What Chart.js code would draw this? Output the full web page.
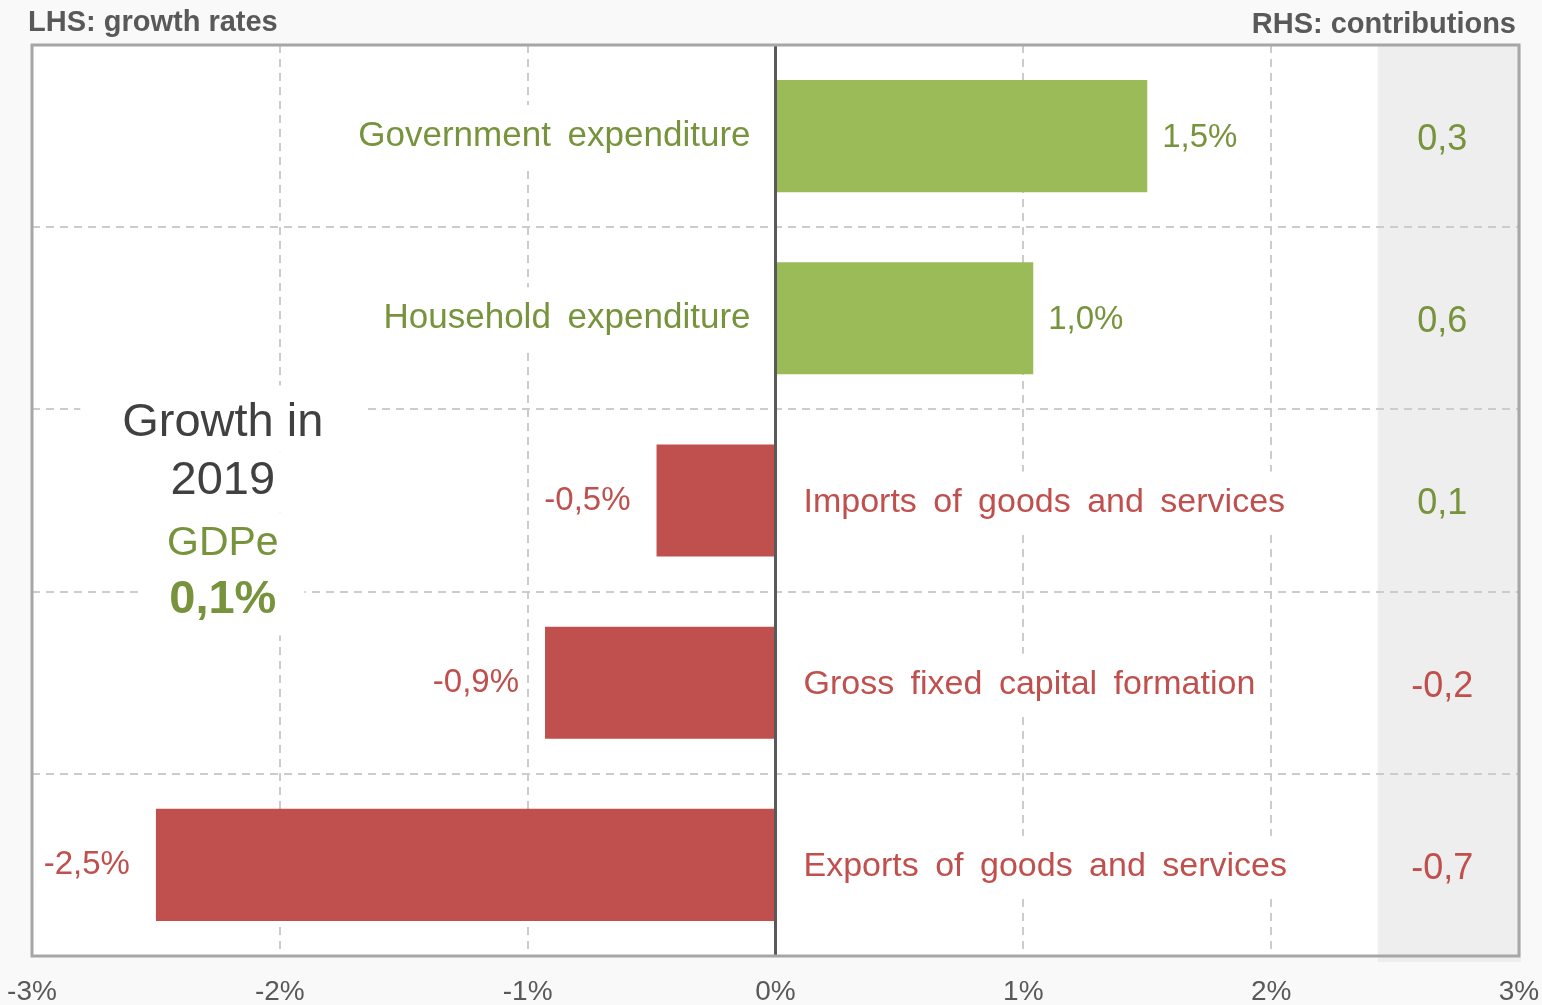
<!DOCTYPE html>
<html>
<head>
<meta charset="utf-8">
<script src="https://cdn.jsdelivr.net/npm/chart.js@4"></script>
<style>
  body { margin: 0; background: #f9f9f9; }
  #wrap { width: 1542px; height: 1005px; }
</style>
</head>
<body>
<div id="wrap"><canvas id="myChart" width="1542" height="1005"></canvas></div>
<script>
const categories = [
    'Government expenditure',
    'Household expenditure',
    'Imports of goods and services',
    'Gross fixed capital formation',
    'Exports of goods and services'
];
const growth = [1.5, 1.04, -0.48, -0.93, -2.5];
const contributions = [0.3, 0.6, 0.1, -0.2, -0.7];
const gdpGrowth = 0.1;
const xMin = -3;
const xMax = 3;

const GREEN = '#9bbb59';
const GREEN_TEXT = '#77933c';
const RED = '#c0504d';
const FONT = "'Liberation Sans', Arial, sans-serif";

function comma(v) {
    return v.toFixed(1).replace('.', ',');
}

function boxText(ctx, text, x, y, align, padX, h) {
    const w = ctx.measureText(text).width;
    let left = x;
    if (align === 'center') left = x - w / 2;
    if (align === 'right') left = x - w;
    const fill = ctx.fillStyle;
    ctx.fillStyle = '#ffffff';
    ctx.fillRect(left - padX, y - h / 2, w + padX * 2, h);
    ctx.fillStyle = fill;
    ctx.fillText(text, x, y);
}

const decor = {
    id: 'decor',
    beforeDraw(chart) {
        const { ctx, chartArea: a, scales: { x } } = chart;
        ctx.save();
        ctx.fillStyle = '#ffffff';
        ctx.fillRect(a.left, a.top, a.right - a.left, a.bottom - a.top);
        // shaded contributions column
        const gx = x.getPixelForValue(2.43);
        ctx.fillStyle = '#eeeeee';
        ctx.fillRect(gx, a.top, a.right + 2 - gx, a.bottom + 6 - a.top);
        ctx.restore();
    },
    afterDatasetsDraw(chart) {
        const { ctx, chartArea: a, scales: { x, y } } = chart;
        const x0 = x.getPixelForValue(0);
        ctx.save();
        ctx.textBaseline = 'middle';

        categories.forEach((cat, i) => {
            const v = growth[i];
            const yc = y.getPixelForValue(i);
            const col = v >= 0 ? GREEN_TEXT : RED;
            ctx.fillStyle = col;
            ctx.font = '35px ' + FONT;
            ctx.wordSpacing = '7px';
            if (v >= 0) {
                ctx.textAlign = 'right';
                boxText(ctx, cat, x0 - 25, yc, 'right', 6, 62);
            } else {
                ctx.font = '34px ' + FONT;
                ctx.textAlign = 'left';
                boxText(ctx, cat, x0 + 28, yc + 2, 'left', 6, 62);
            }
            ctx.wordSpacing = '0px';
            // value label
            ctx.font = '33px ' + FONT;
            const xe = x.getPixelForValue(v);
            if (v >= 0) {
                ctx.textAlign = 'left';
                ctx.fillText(comma(v) + '%', xe + 15, yc + 2);
            } else {
                ctx.textAlign = 'right';
                ctx.fillText(comma(v) + '%', xe - 26, yc);
            }
            // contribution
            const c = contributions[i];
            ctx.font = '36px ' + FONT;
            ctx.textAlign = 'center';
            ctx.fillStyle = c >= 0 ? GREEN_TEXT : RED;
            ctx.fillText(comma(c), x.getPixelForValue(2.69), yc + 4);
        });

        // growth annotation
        const ax = x.getPixelForValue(-2.23);
        const ay = y.getPixelForValue(2);
        const lines = [
            { t: 'Growth in', f: '47px ' + FONT, c: '#404040', dy: -77, pad: 42, top: -115, bot: -48 },
            { t: '2019', f: '47px ' + FONT, c: '#404040', dy: -19, pad: 42, top: -48, bot: 12 },
            { t: 'GDPe', f: '41px ' + FONT, c: GREEN_TEXT, dy: 43, pad: 42, top: 12, bot: 72 },
            { t: comma(gdpGrowth) + '%', f: 'bold 47px ' + FONT, c: GREEN_TEXT, dy: 100, pad: 28, top: 72, bot: 135 }
        ];
        ctx.textAlign = 'center';
        lines.forEach(l => {
            ctx.font = l.f;
            const w = ctx.measureText(l.t).width;
            ctx.fillStyle = '#ffffff';
            ctx.fillRect(ax - w / 2 - l.pad, ay + l.top, w + l.pad * 2, l.bot - l.top);
        });
        lines.forEach(l => {
            ctx.font = l.f;
            ctx.fillStyle = l.c;
            ctx.fillText(l.t, ax, ay + l.dy);
        });

        // zero line
        ctx.strokeStyle = '#595959';
        ctx.lineWidth = 3;
        ctx.beginPath();
        ctx.moveTo(x0, a.top);
        ctx.lineTo(x0, a.bottom);
        ctx.stroke();

        // frame
        ctx.strokeStyle = '#a6a6a6';
        ctx.lineWidth = 3;
        ctx.strokeRect(a.left, a.top, a.right - a.left, a.bottom - a.top);

        // titles
        ctx.fillStyle = '#595959';
        ctx.font = 'bold 29px ' + FONT;
        ctx.textAlign = 'left';
        ctx.fillText('LHS: growth rates', 28, 23);
        ctx.textAlign = 'right';
        ctx.fillText('RHS: contributions', 1516, 25);
        ctx.restore();
    }
};

function getChart() {
    const ctx = document.getElementById('myChart');

    new Chart(ctx, {
        type: 'bar',
        data: {
            labels: categories,
            datasets: [{
                data: growth,
                backgroundColor: growth.map(v => v >= 0 ? GREEN : RED),
                barPercentage: 0.615,
                categoryPercentage: 1
            }]
        },
        options: {
            indexAxis: 'y',
            responsive: false,
            animation: false,
            devicePixelRatio: 1,
            layout: { padding: { left: 32, right: 23, top: 45, bottom: 0 } },
            plugins: { legend: { display: false }, tooltip: { enabled: false } },
            scales: {
                x: {
                    min: xMin,
                    max: xMax,
                    afterFit: s => { s.paddingLeft = 0; s.paddingRight = 0; s.height = 49; },
                    ticks: {
                        stepSize: 1,
                        padding: 19,
                        color: '#595959',
                        font: { family: FONT, size: 28 },
                        callback: v => v + '%'
                    },
                    grid: {
                        drawTicks: false,
                        lineWidth: 2,
                        color: c => (c.tick && (c.tick.value === 0 || c.tick.value === xMin || c.tick.value === xMax)) ? 'rgba(0,0,0,0)' : '#cccccc'
                    },
                    border: { display: false, dash: [8, 6] }
                },
                y: {
                    afterFit: s => { s.width = 0; },
                    ticks: { display: false },
                    grid: { offset: true, drawTicks: false, lineWidth: 2, color: '#cccccc' },
                    border: { display: false, dash: [8, 6] }
                }
            }
        },
        plugins: [decor]
    });
}

getChart();
</script>
</body>
</html>
